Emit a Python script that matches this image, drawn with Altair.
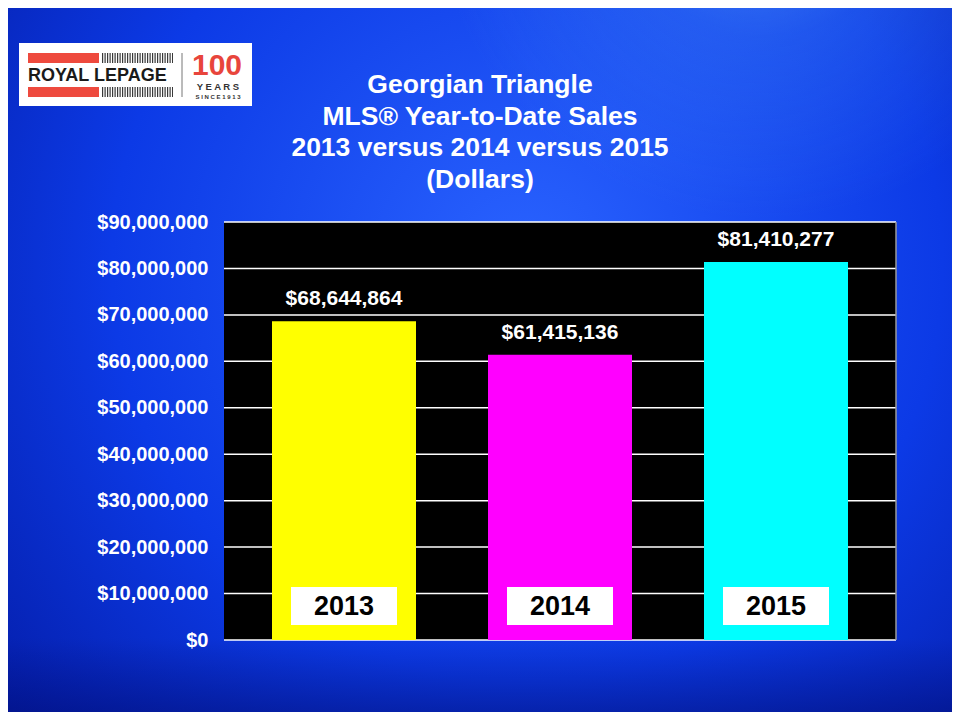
import altair as alt
import pandas as pd

# ---- data ----
years = ["2013", "2014", "2015"]
sales = [68644864, 61415136, 81410277]
bar_colors = ["#ffff00", "#ff00ff", "#00ffff"]
tick_values = [0, 10000000, 20000000, 30000000, 40000000,
               50000000, 60000000, 70000000, 80000000, 90000000]
title_lines = ["Georgian Triangle", "MLS® Year-to-Date Sales",
               "2013 versus 2014 versus 2015", "(Dollars)"]

df = pd.DataFrame({"year": years, "sales": sales})
grid_df = pd.DataFrame({"tick": tick_values})
one = pd.DataFrame({"k": [0]})

FONT = "Liberation Sans"
W, H = 672, 418
PAD_L, PAD_T, PAD_R, PAD_B = 216, 214, 56, 72
TOT_W, TOT_H = PAD_L + W + PAD_R, PAD_T + H + PAD_B

x_scale = alt.Scale(domain=years, paddingInner=1 / 3, paddingOuter=2 / 9)
y_scale = alt.Scale(domain=[0, 90000000], nice=False, zero=True)
y_axis = alt.Axis(values=tick_values, format="$,.0f", title=None, grid=False,
                  domain=False, ticks=False, labelPadding=16, labelColor="white",
                  labelFont=FONT, labelFontWeight="bold", labelFontSize=20,
                  zindex=1)
x_enc = alt.X("year:N", scale=x_scale, axis=None)


def full_rect(y_top, y_bot, color):
    return alt.Chart(one).mark_rect(color=color).encode(
        x=alt.value(-PAD_L), x2=alt.value(TOT_W - PAD_L),
        y=alt.value(y_top - PAD_T), y2=alt.value(y_bot - PAD_T))


# background gradients (decoration)
bg = full_rect(0, TOT_H, alt.RadialGradient(
    gradient="radial",
    stops=[alt.GradientStop(color="#2a63ff", offset=0),
           alt.GradientStop(color="#0c3ae6", offset=0.55),
           alt.GradientStop(color="#03179c", offset=1)],
    x1=0.55, y1=0.4, r1=0, x2=0.55, y2=0.4, r2=0.8))
top_glow = full_rect(0, TOT_H, alt.RadialGradient(
    gradient="radial",
    stops=[alt.GradientStop(color="rgba(120,195,255,0.6)", offset=0),
           alt.GradientStop(color="rgba(90,170,255,0.22)", offset=0.45),
           alt.GradientStop(color="rgba(90,170,255,0)", offset=1)],
    x1=0.8, y1=0, r1=0, x2=0.8, y2=0, r2=0.35))
bottom_shade = full_rect(630, TOT_H, alt.LinearGradient(
    gradient="linear",
    stops=[alt.GradientStop(color="rgba(0,10,110,0)", offset=0),
           alt.GradientStop(color="rgba(0,10,110,0.45)", offset=1)],
    x1=0, y1=0, x2=0, y2=1))

plot_bg = alt.Chart(one).mark_rect(color="black").encode(
    x=alt.value(0), x2=alt.value(W), y=alt.value(0), y2=alt.value(H))

grid = alt.Chart(grid_df).mark_rule(color="white", strokeWidth=1.5).encode(
    y=alt.Y("tick:Q", scale=y_scale, axis=y_axis))

right_edge = alt.Chart(one).mark_rule(color="#9a9a9a", strokeWidth=1.5).encode(
    x=alt.value(W), y=alt.value(0), y2=alt.value(H))

bars = alt.Chart(df).mark_bar().encode(
    x=x_enc,
    y=alt.Y("sales:Q", scale=y_scale, axis=y_axis),
    color=alt.Color("year:N", scale=alt.Scale(domain=years, range=bar_colors), legend=None),
)

values = alt.Chart(df).mark_text(
    dy=-16, baseline="alphabetic", fontSize=21, fontWeight="bold",
    color="white", font=FONT
).encode(x=x_enc, y=alt.Y("sales:Q", scale=y_scale, axis=y_axis),
         text=alt.Text("sales:Q", format="$,.0f"))

year_box = alt.Chart(df).mark_bar(size=106, color="white").encode(
    x=x_enc, y=alt.value(365), y2=alt.value(403))

year_text = alt.Chart(df).mark_text(
    fontSize=27, fontWeight="bold", color="black", baseline="middle", font=FONT
).encode(x=x_enc, y=alt.value(385), text="year:N")

title = alt.Chart(one).mark_text(
    text=title_lines, fontSize=26.5, fontWeight="bold", color="white",
    font=FONT, align="center", baseline="alphabetic", lineHeight=31.5
).encode(x=alt.value(256), y=alt.value(-129))

# logo (decoration)
logo_box = alt.Chart(one).mark_rect(color="white").encode(
    x=alt.value(-205), x2=alt.value(28), y=alt.value(-179), y2=alt.value(-116))
red_top = alt.Chart(one).mark_rect(color="#ee4a3e").encode(
    x=alt.value(-196), x2=alt.value(-125), y=alt.value(-169), y2=alt.value(-159))
red_bot = alt.Chart(one).mark_rect(color="#ee4a3e").encode(
    x=alt.value(-196), x2=alt.value(-125), y=alt.value(-135), y2=alt.value(-125))
code_top = alt.Chart(one).mark_rule(color="#3a3a3a", strokeWidth=10,
                                     strokeDash=[1.2, 1.3]).encode(
    x=alt.value(-122), x2=alt.value(-51), y=alt.value(-164))
code_bot = alt.Chart(one).mark_rule(color="#3a3a3a", strokeWidth=10,
                                     strokeDash=[1.2, 1.3]).encode(
    x=alt.value(-122), x2=alt.value(-51), y=alt.value(-130))
logo_name = alt.Chart(one).mark_text(
    text="ROYAL LEPAGE", fontSize=18, fontWeight="bold", color="#1a1a1a",
    font=FONT, align="left", baseline="alphabetic"
).encode(x=alt.value(-196), y=alt.value(-141))
divider = alt.Chart(one).mark_rule(color="#777777", strokeWidth=1).encode(
    x=alt.value(-42), y=alt.value(-169), y2=alt.value(-125))
hundred = alt.Chart(one).mark_text(
    text="100", fontSize=30, fontWeight="bold", color="#e8453c", font=FONT,
    align="center", baseline="alphabetic"
).encode(x=alt.value(-7), y=alt.value(-147))
years_word = alt.Chart(one).mark_text(
    text="Y E A R S", fontSize=9.5, fontWeight="bold", color="#333333",
    font=FONT, align="center", baseline="alphabetic"
).encode(x=alt.value(-6), y=alt.value(-132))
since = alt.Chart(one).mark_text(
    text="S I N C E   1 9 1 3", fontSize=6, fontWeight="bold", color="#333333",
    font=FONT, align="center", baseline="alphabetic"
).encode(x=alt.value(-6), y=alt.value(-123.5))

chart = alt.layer(
    bg, top_glow, bottom_shade, plot_bg, grid, right_edge, bars, values,
    year_box, year_text, title,
    logo_box, red_top, red_bot, code_top, code_bot, logo_name, divider,
    hundred, years_word, since
).properties(
    width=W, height=H,
    autosize=alt.AutoSizeParams(type="none"),
    padding={"left": PAD_L, "top": PAD_T, "right": PAD_R, "bottom": PAD_B},
    background="#0c3ae6",
).configure_view(stroke=None)

chart.save("out.html", embed_options={"renderer": "svg", "actions": False})
